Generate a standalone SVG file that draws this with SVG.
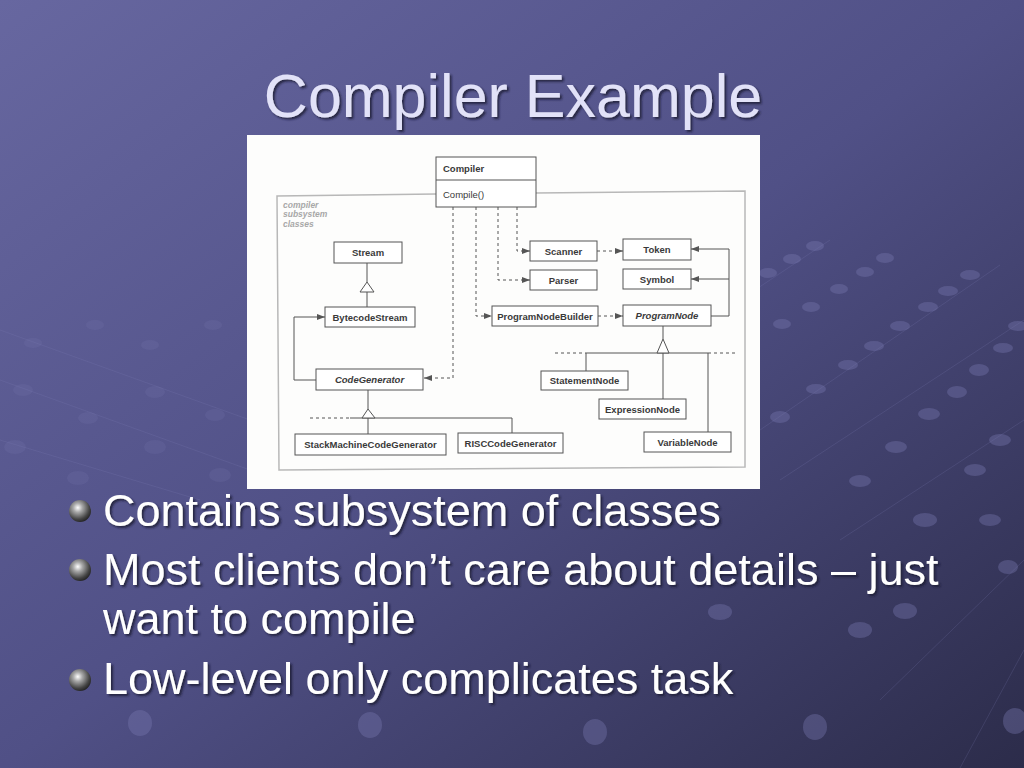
<svg xmlns="http://www.w3.org/2000/svg" width="1024" height="768" viewBox="0 0 1024 768">
<defs>
  <linearGradient id="bg" x1="0" y1="0" x2="1" y2="1">
    <stop offset="0" stop-color="#6767a0"/>
    <stop offset="0.5" stop-color="#505086"/>
    <stop offset="1" stop-color="#2c2c4a"/>
  </linearGradient>
  <radialGradient id="ball" cx="0.4" cy="0.35" r="0.7">
    <stop offset="0" stop-color="#ffffff"/>
    <stop offset="0.3" stop-color="#a8a8a8"/>
    <stop offset="0.75" stop-color="#444444"/>
    <stop offset="1" stop-color="#1e1e1e"/>
  </radialGradient>
  <marker id="arr" viewBox="0 0 8 6" refX="8" refY="3" markerWidth="8" markerHeight="6" markerUnits="userSpaceOnUse" orient="auto">
    <path d="M0,0 L8,3 L0,6 Z" fill="#555"/>
  </marker>
  <filter id="sh" x="-5%" y="-20%" width="110%" height="140%">
    <feDropShadow dx="2" dy="2" stdDeviation="1" flood-color="#1a1a30" flood-opacity="0.8"/>
  </filter>
</defs>
<style>
  .dot { fill:#7878b0; opacity:0.38; }
  .dotf { fill:#7878b0; opacity:0.2; }
  .gl { stroke:#8080b8; stroke-width:0.8; opacity:0.25; fill:none; }
  .box { fill:#ffffff; stroke:#555; stroke-width:1; }
  .lbl { font-family:"Liberation Sans",Arial,sans-serif; font-size:9.5px; font-weight:bold; fill:#3a3a3a; text-anchor:middle; }
  .it { font-style:italic; }
  .ln { fill:none; stroke:#555; stroke-width:1; }
  .dl { fill:none; stroke:#555; stroke-width:1; stroke-dasharray:3,3; }
  .tri { fill:#ffffff; stroke:#555; stroke-width:1; }
  .bul { font-family:"Liberation Sans",Arial,sans-serif; font-size:45px; fill:#ffffff; }
</style>

<rect x="0" y="0" width="1024" height="768" fill="url(#bg)"/>

<!-- decorative background pattern -->
<g id="pattern">
  <path class="gl" d="M830,240 L740,300 M1000,265 L760,430 M1024,320 L780,480 M1024,420 L840,540 M1024,560 L880,700 M1024,650 L960,768"/>
  <path class="gl" d="M0,330 L250,420 M0,380 L250,470 M0,440 L200,500"/>
  <ellipse class="dot" cx="815" cy="246" rx="9" ry="5"/>
  <ellipse class="dot" cx="792" cy="259" rx="9" ry="5"/>
  <ellipse class="dot" cx="768" cy="273" rx="9" ry="5"/>
  <ellipse class="dot" cx="885" cy="258" rx="9" ry="5"/>
  <ellipse class="dot" cx="865" cy="272" rx="9" ry="5"/>
  <ellipse class="dot" cx="839" cy="289" rx="9" ry="5"/>
  <ellipse class="dot" cx="811" cy="307" rx="9" ry="5"/>
  <ellipse class="dot" cx="782" cy="324" rx="9" ry="5"/>
  <ellipse class="dot" cx="970" cy="275" rx="10" ry="5"/>
  <ellipse class="dot" cx="948" cy="291" rx="10" ry="5"/>
  <ellipse class="dot" cx="928" cy="307" rx="10" ry="5"/>
  <ellipse class="dot" cx="900" cy="326" rx="10" ry="5"/>
  <ellipse class="dot" cx="874" cy="346" rx="10" ry="5"/>
  <ellipse class="dot" cx="848" cy="365" rx="10" ry="5"/>
  <ellipse class="dot" cx="816" cy="389" rx="10" ry="5"/>
  <ellipse class="dot" cx="780" cy="417" rx="10" ry="6"/>
  <ellipse class="dot" cx="1018" cy="326" rx="10" ry="5"/>
  <ellipse class="dot" cx="1003" cy="348" rx="10" ry="5"/>
  <ellipse class="dot" cx="979" cy="370" rx="10" ry="6"/>
  <ellipse class="dot" cx="957" cy="392" rx="10" ry="6"/>
  <ellipse class="dot" cx="929" cy="414" rx="11" ry="6"/>
  <ellipse class="dot" cx="896" cy="447" rx="11" ry="6"/>
  <ellipse class="dot" cx="860" cy="481" rx="11" ry="6"/>
  <ellipse class="dot" cx="1000" cy="440" rx="11" ry="6"/>
  <ellipse class="dot" cx="975" cy="470" rx="11" ry="6"/>
  <ellipse class="dot" cx="925" cy="520" rx="12" ry="7"/>
  <ellipse class="dot" cx="990" cy="520" rx="11" ry="6"/>
  <ellipse class="dot" cx="905" cy="611" rx="12" ry="8"/>
  <ellipse class="dot" cx="860" cy="630" rx="12" ry="8"/>
  <ellipse class="dot" cx="720" cy="612" rx="12" ry="8"/>
  <ellipse class="dot" cx="1008" cy="567" rx="10" ry="7"/>
  <ellipse class="dot" cx="140" cy="723" rx="12" ry="13"/>
  <ellipse class="dot" cx="370" cy="725" rx="12" ry="13"/>
  <ellipse class="dot" cx="595" cy="732" rx="12" ry="13"/>
  <ellipse class="dot" cx="815" cy="727" rx="12" ry="13"/>
  <ellipse class="dot" cx="1015" cy="721" rx="12" ry="13"/>
  <ellipse class="dotf" cx="33" cy="343" rx="9" ry="5"/>
  <ellipse class="dotf" cx="95" cy="325" rx="9" ry="5"/>
  <ellipse class="dotf" cx="150" cy="345" rx="9" ry="5"/>
  <ellipse class="dotf" cx="213" cy="325" rx="9" ry="5"/>
  <ellipse class="dotf" cx="23" cy="390" rx="10" ry="6"/>
  <ellipse class="dotf" cx="88" cy="418" rx="10" ry="6"/>
  <ellipse class="dotf" cx="155" cy="392" rx="10" ry="6"/>
  <ellipse class="dotf" cx="215" cy="415" rx="10" ry="6"/>
  <ellipse class="dotf" cx="15" cy="447" rx="11" ry="7"/>
  <ellipse class="dotf" cx="78" cy="478" rx="11" ry="7"/>
  <ellipse class="dotf" cx="155" cy="447" rx="11" ry="7"/>
  <ellipse class="dotf" cx="220" cy="475" rx="11" ry="7"/>
</g>

<!-- title -->
<text x="513" y="117" font-family="Liberation Sans, Arial, sans-serif" font-size="61" fill="#e2e2f8" text-anchor="middle" filter="url(#sh)">Compiler Example</text>

<!-- diagram picture area -->
<rect x="247" y="135" width="513" height="354" fill="#fdfdfc"/>

<!-- subsystem frame -->
<g id="subsystem">
  <path d="M436,194 L277,196 L279,470 L745,467 L745,191 L535,193" fill="none" stroke="#b8b8b8" stroke-width="1.5"/>
  <text font-family="Liberation Sans, Arial, sans-serif" font-size="8.5" font-weight="bold" font-style="italic" fill="#a8a8a8">
    <tspan x="283" y="208">compiler</tspan>
    <tspan x="283" y="217">subsystem</tspan>
    <tspan x="283" y="227">classes</tspan>
  </text>
</g>

<!-- connectors -->
<g id="connectors">
  <path class="ln" d="M367,263 V282 M367,292 V307"/>
  <path class="tri" d="M367,282 L360,292 L374,292 Z"/>
  <path class="ln" d="M316,380 H294 V317 H325" marker-end="url(#arr)"/>
  <path class="dl" d="M453,207 V378 H424" marker-end="url(#arr)"/>
  <path class="dl" d="M476,207 V316 H492" marker-end="url(#arr)"/>
  <path class="dl" d="M498,207 V280 H530" marker-end="url(#arr)"/>
  <path class="dl" d="M517,207 V251 H530" marker-end="url(#arr)"/>
  <path class="dl" d="M597,251 H623" marker-end="url(#arr)"/>
  <path class="dl" d="M598,316 H623" marker-end="url(#arr)"/>
  <path class="ln" d="M711,316 H729 V249 H691" marker-end="url(#arr)"/>
  <path class="ln" d="M729,279 H691" marker-end="url(#arr)"/>
  <path class="ln" d="M368,390 V409 M350,418 H512 V433 M368,418 V434"/>
  <path class="dl" d="M310,418 H350"/>
  <path class="tri" d="M368,409 L362,418 L375,418 Z"/>
  <path class="ln" d="M663,326 V339 M586,353 H708 M586,353 V371 M663,353 V399 M708,353 V432"/>
  <path class="dl" d="M555,353 H586 M708,353 H737"/>
  <path class="tri" d="M663,339 L657,353 L669,353 Z"/>
</g>

<!-- nodes -->
<g id="compiler">
  <rect class="box" x="436" y="157" width="100" height="50"/>
  <line x1="436" y1="180" x2="536" y2="180" stroke="#555" stroke-width="1"/>
  <text x="443" y="172" font-family="Liberation Sans, Arial, sans-serif" font-size="9.5" font-weight="bold" fill="#3a3a3a">Compiler</text>
  <text x="443" y="198" font-family="Liberation Sans, Arial, sans-serif" font-size="9.5" fill="#3a3a3a">Compile()</text>
</g>
<g id="stream"><rect class="box" x="334" y="242" width="68" height="21"/><text class="lbl" x="368" y="256">Stream</text></g>
<g id="bytecodestream"><rect class="box" x="325" y="307" width="90" height="20"/><text class="lbl" x="370" y="320.5">BytecodeStream</text></g>
<g id="codegenerator"><rect class="box" x="316" y="369" width="107" height="21"/><text class="lbl it" x="369.5" y="383">CodeGenerator</text></g>
<g id="stackmachinecodegenerator"><rect class="box" x="295" y="434" width="151" height="21"/><text class="lbl" x="370.5" y="448">StackMachineCodeGenerator</text></g>
<g id="risccodegenerator"><rect class="box" x="458" y="433" width="105" height="20"/><text class="lbl" x="510.5" y="446.5">RISCCodeGenerator</text></g>
<g id="scanner"><rect class="box" x="530" y="241" width="67" height="20"/><text class="lbl" x="563.5" y="254.5">Scanner</text></g>
<g id="parser"><rect class="box" x="530" y="270" width="67" height="20"/><text class="lbl" x="563.5" y="283.5">Parser</text></g>
<g id="token"><rect class="box" x="623" y="239" width="68" height="21"/><text class="lbl" x="657" y="253">Token</text></g>
<g id="symbol"><rect class="box" x="623" y="269" width="68" height="20"/><text class="lbl" x="657" y="282.5">Symbol</text></g>
<g id="programnodebuilder"><rect class="box" x="492" y="306" width="106" height="20"/><text class="lbl" x="545" y="319.5">ProgramNodeBuilder</text></g>
<g id="programnode"><rect class="box" x="623" y="305" width="88" height="21"/><text class="lbl it" x="667" y="319">ProgramNode</text></g>
<g id="statementnode"><rect class="box" x="541" y="371" width="87" height="19"/><text class="lbl" x="584.5" y="384">StatementNode</text></g>
<g id="expressionnode"><rect class="box" x="599" y="399" width="87" height="20"/><text class="lbl" x="642.5" y="412.5">ExpressionNode</text></g>
<g id="variablenode"><rect class="box" x="644" y="432" width="87" height="20"/><text class="lbl" x="687.5" y="445.5">VariableNode</text></g>

<!-- bullets -->
<g id="bullets">
  <circle cx="80" cy="511" r="11" fill="url(#ball)"/>
  <circle cx="80" cy="570" r="11" fill="url(#ball)"/>
  <circle cx="80" cy="680" r="11" fill="url(#ball)"/>
  <g filter="url(#sh)">
    <text class="bul" x="103" y="526">Contains subsystem of classes</text>
    <text class="bul" x="103" y="585">Most clients don’t care about details – just</text>
    <text class="bul" x="103" y="634">want to compile</text>
    <text class="bul" x="103" y="694">Low-level only complicates task</text>
  </g>
</g>
</svg>
